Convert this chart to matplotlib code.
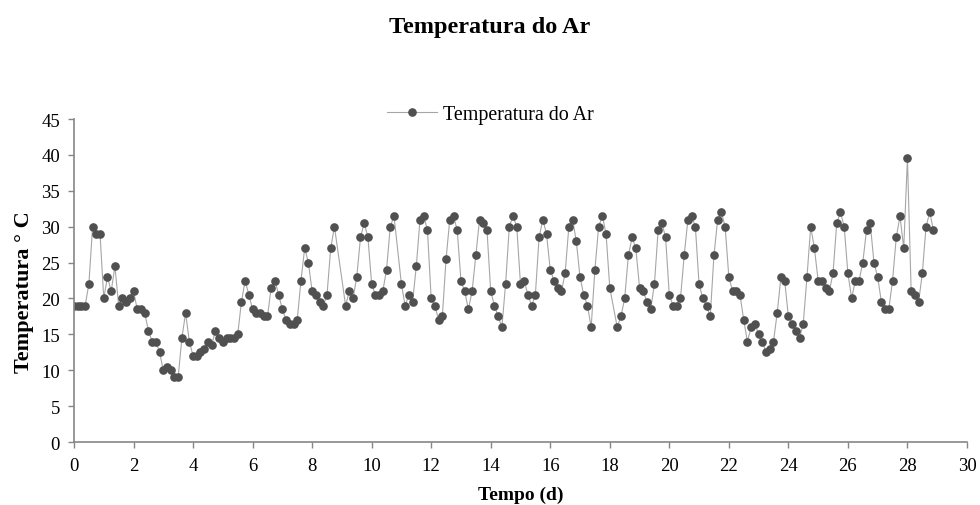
import matplotlib
matplotlib.use("Agg")
import matplotlib.pyplot as plt
import numpy as np

# 3-hourly sample slots (slot / 8 = days); a few slots are missing in the record
slots = [s for s in range(232) if s not in (71, 72, 87, 145)]

temp_air = [
    19, 19, 19, 19, 22, 30, 29, 29, 20, 23, 21, 24.5, 19, 20, 19.5, 20,
    21, 18.5, 18.5, 18, 15.5, 14, 14, 12.5, 10, 10.5, 10, 9, 9, 14.5, 18, 14,
    12, 12, 12.5, 13, 14, 13.5, 15.5, 14.5, 14, 14.5, 14.5, 14.5, 15, 19.5, 22.5, 20.5,
    18.5, 18, 18, 17.5, 17.5, 21.5, 22.5, 20.5, 18.5, 17, 16.5, 16.5, 17, 22.5, 27, 25,
    21, 20.5, 19.5, 19, 20.5, 27, 30,
    19, 21, 20, 23, 28.5, 30.5, 28.5, 22, 20.5, 20.5, 21, 24, 30, 31.5,
    22, 19, 20.5, 19.5, 24.5, 31, 31.5, 29.5, 20, 19, 17, 17.5, 25.5, 31, 31.5, 29.5,
    22.5, 21, 18.5, 21, 26, 31, 30.5, 29.5, 21, 19, 17.5, 16, 22, 30, 31.5, 30,
    22, 22.5, 20.5, 19, 20.5, 28.5, 31, 29, 24, 22.5, 21.5, 21, 23.5, 30, 31, 28,
    23, 20.5, 19, 16, 24, 30, 31.5, 29, 21.5,
    16, 17.5, 20, 26, 28.5, 27, 21.5, 21, 19.5, 18.5, 22, 29.5, 30.5, 28.5,
    20.5, 19, 19, 20, 26, 31, 31.5, 30, 22, 20, 19, 17.5, 26, 31, 32, 30,
    23, 21, 21, 20.5, 17, 14, 16, 16.5, 15, 14, 12.5, 13, 14, 18, 23, 22.5,
    17.5, 16.5, 15.5, 14.5, 16.5, 23, 30, 27, 22.5, 22.5, 21.5, 21, 23.5, 30.5, 32, 30,
    23.5, 20, 22.5, 22.5, 25, 29.5, 30.5, 25, 23, 19.5, 18.5, 18.5, 22.5, 28.5, 31.5, 27,
    39.5, 21, 20.5, 19.5, 23.5, 30, 32, 29.5,
]

days = np.array(slots) / 8.0

plt.rcParams['font.family'] = ['Liberation Serif', 'DejaVu Serif']

fig = plt.figure(figsize=(9.8, 5.06), dpi=100)
ax = fig.add_axes([0.0755, 0.1245, 0.9112, 0.6383])

ax.plot(days, temp_air, color='#a6a6a6', lw=0.8, marker='o', markersize=5.2,
        markerfacecolor='#505050', markeredgecolor='#505050', label='Temperatura do Ar')

ax.set_xlim(0, 30)
ax.set_ylim(0, 45)
ax.set_xticks(np.arange(0, 31, 2))
ax.set_yticks(np.arange(0, 46, 5))
ax.tick_params(direction='out', length=4, width=1, color='#868686', labelsize=13.5)
ax.tick_params(axis='y', pad=6)
ax.tick_params(axis='x', pad=7)
for side in ('top', 'right'):
    ax.spines[side].set_visible(False)
for side in ('left', 'bottom'):
    ax.spines[side].set_color('#868686')
    ax.spines[side].set_linewidth(1.2)

ax.set_xlabel('Tempo (d)', fontsize=14, fontweight='bold', labelpad=8)
ax.set_ylabel('Temperatura ° C', fontsize=16, fontweight='bold')
ax.yaxis.set_label_coords(-0.045, 0.467)

fig.text(0.5, 0.945, 'Temperatura do Ar', ha='center', va='center', fontsize=17.5, fontweight='bold')
fig.legend(loc='center', bbox_to_anchor=(0.5, 0.771), frameon=False, fontsize=14.4,
           handlelength=2.5, handletextpad=0.3)

fig.savefig('out.png', dpi=100)
